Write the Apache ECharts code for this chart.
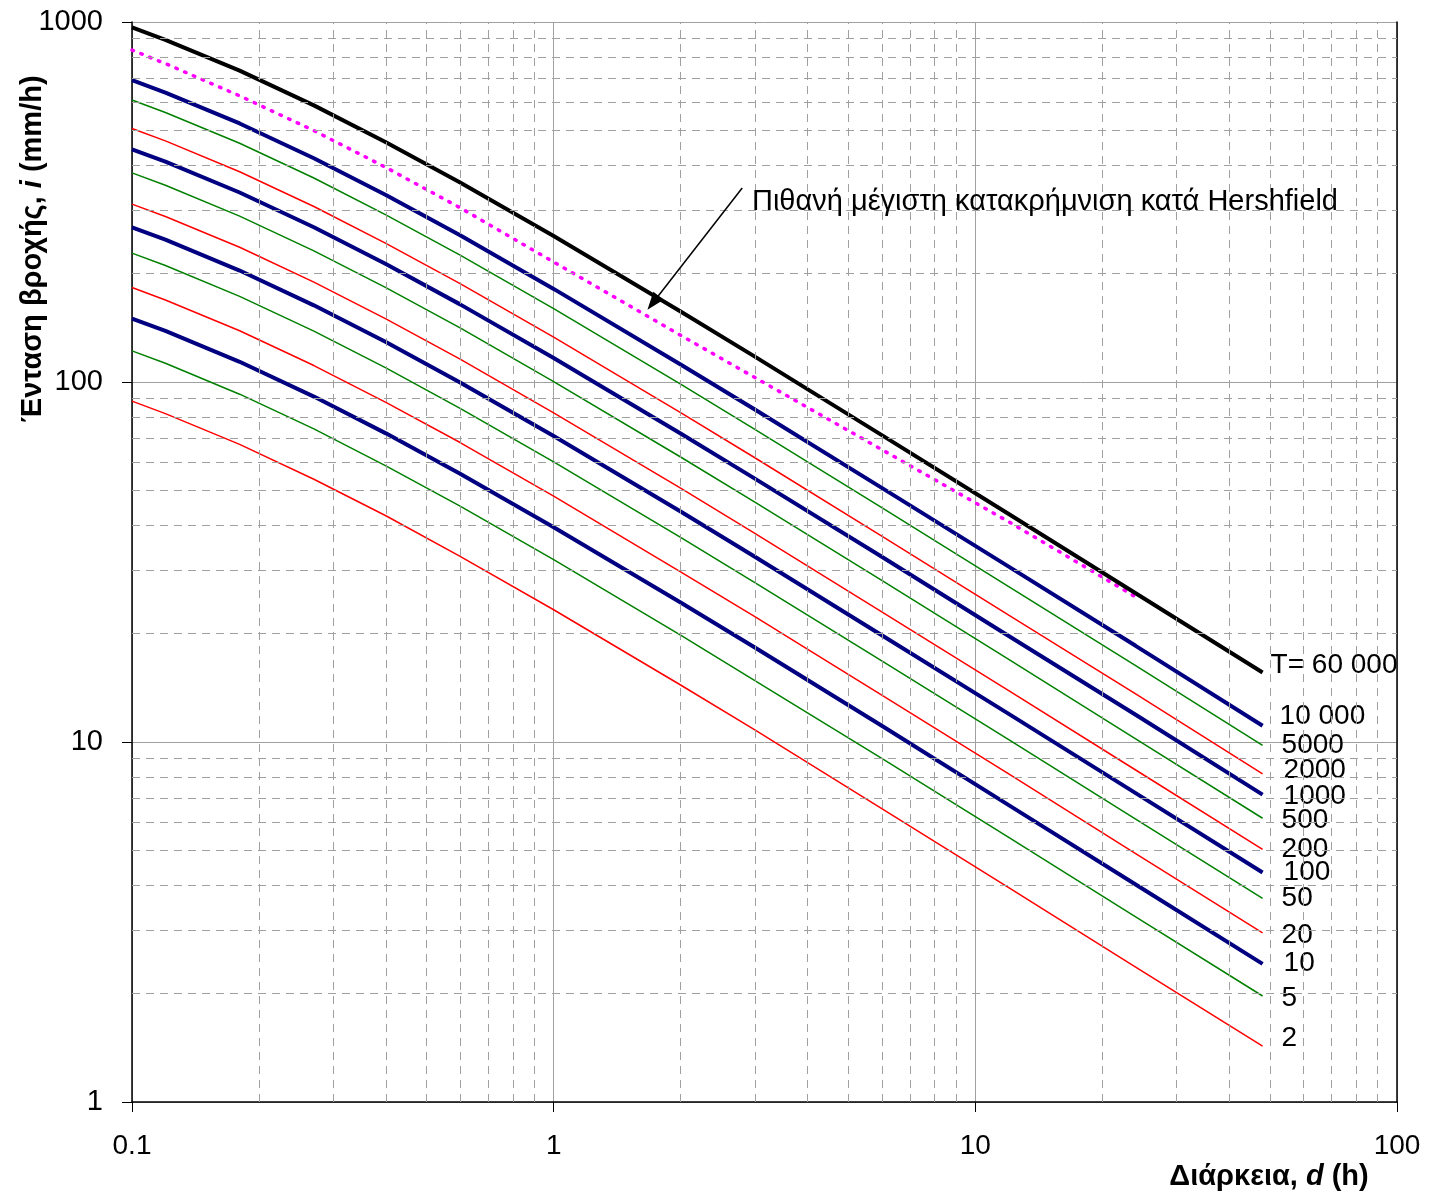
<!DOCTYPE html>
<html>
<head>
<meta charset="utf-8">
<script src="https://cdn.jsdelivr.net/npm/echarts@6/dist/echarts.min.js"></script>
<style>
  html, body { margin: 0; padding: 0; background: #ffffff; }
  #chart { width: 1429px; height: 1195px; }
</style>
</head>
<body>
<div id="chart"></div>
<script>
// Rainfall intensity–duration–frequency curves (log–log), with the Hershfield PMP curve.

// Durations d (h)
const durations = [0.1, 0.12, 0.18, 0.27, 0.4, 0.6, 1, 2, 3, 6, 12, 24, 48];
const hershfieldDurations = [0.1, 0.12, 0.18, 0.27, 0.4, 0.6, 1, 2, 3, 6, 12, 24];

// Intensity i (mm/h) per return period T (years)
const iT60000 = [966, 892.3, 732.7, 586.6, 463.6, 358.2, 254.3, 156.9, 117.6, 71.2, 43.0, 25.9, 15.6];
const iT10000 = [689, 636.4, 522.6, 418.4, 330.7, 255.5, 181.4, 111.9, 83.9, 50.8, 30.7, 18.5, 11.1];
const iT5000  = [607, 560.7, 460.4, 368.6, 291.3, 225.1, 159.8, 98.6, 73.9, 44.8, 27.0, 16.3, 9.78];
const iT2000  = [506, 467.4, 383.8, 307.2, 242.8, 187.6, 133.2, 82.2, 61.6, 37.3, 22.5, 13.6, 8.16];
const iT1000  = [443, 409.2, 336.0, 269.0, 212.6, 164.3, 116.6, 71.9, 53.9, 32.7, 19.7, 11.9, 7.14];
const iT500   = [381, 351.9, 289.0, 231.3, 182.8, 141.3, 100.3, 61.9, 46.4, 28.1, 16.96, 10.2, 6.14];
const iT200   = [312, 288.2, 236.7, 189.4, 149.7, 115.7, 82.1, 50.7, 38.0, 23.0, 13.9, 8.36, 5.03];
const iT100   = [269, 248.5, 204.0, 163.3, 129.1, 99.7, 70.8, 43.7, 32.7, 19.8, 11.97, 7.21, 4.34];
const iT50    = [228, 210.6, 172.9, 138.4, 109.4, 84.5, 60.0, 37.0, 27.7, 16.8, 10.15, 6.11, 3.68];
const iT20    = [183, 169.0, 138.8, 111.1, 87.8, 67.9, 48.2, 29.7, 22.3, 13.5, 8.15, 4.90, 2.95];
const iT10    = [150, 138.6, 113.8, 91.1, 72.0, 55.6, 39.5, 24.4, 18.3, 11.1, 6.68, 4.02, 2.42];
const iT5     = [122, 112.7, 92.5, 74.1, 58.5, 45.2, 32.1, 19.8, 14.8, 9.00, 5.43, 3.27, 1.97];
const iT2     = [88.5, 81.7, 67.1, 53.7, 42.5, 32.8, 23.3, 14.4, 10.8, 6.53, 3.94, 2.37, 1.43];

// Probable maximum precipitation (Hershfield)
const iPMP = [835.6, 766.5, 623.5, 499.2, 394.5, 304.8, 215.4, 134.8, 102.9, 64.9, 40.9, 25.3];

// Curve end labels
const curveLabels = ['T= 60 000', '10 000', '5000', '2000', '1000', '500', '200', '100', '50', '20', '10', '5', '2'];
const curveValues = [iT60000, iT10000, iT5000, iT2000, iT1000, iT500, iT200, iT100, iT50, iT20, iT10, iT5, iT2];

// Axis tick values
const xMajorTicks = [0.1, 1, 10, 100];
const yMajorTicks = [1, 10, 100, 1000];

const annotationText = 'Πιθανή μέγιστη κατακρήμνιση κατά Hershfield';

// ---- styling ----
const FONT = "'Liberation Sans', Arial, sans-serif";
const NAVY = '#000080', GREEN = '#008000', RED = '#ff0000', BLACK = '#000000';
const curveStyles = [
  { color: BLACK, width: 4,   off: [8, -7] },
  { color: NAVY,  width: 4,   off: [17, -9] },
  { color: GREEN, width: 1.5, off: [19, 0] },
  { color: RED,   width: 1.5, off: [21, -4] },
  { color: NAVY,  width: 4,   off: [21, 2] },
  { color: GREEN, width: 1.5, off: [19, 2] },
  { color: RED,   width: 1.5, off: [19, 0] },
  { color: NAVY,  width: 4,   off: [21, 0] },
  { color: GREEN, width: 1.5, off: [19, 0] },
  { color: RED,   width: 1.5, off: [19, 2] },
  { color: NAVY,  width: 4,   off: [21, -1] },
  { color: GREEN, width: 1.5, off: [19, 2] },
  { color: RED,   width: 1.5, off: [19, -8] }
];

// Minor grid positions between decades (2..9 × 10^n)
function minorsBetween(lo, hi) {
  const out = [];
  for (let p = lo; p < hi; p *= 10) {
    for (let k = 2; k <= 9; k++) out.push(+(k * p).toPrecision(3));
  }
  return out;
}
const xMinor = minorsBetween(xMajorTicks[0], xMajorTicks[xMajorTicks.length - 1]);
const yMinor = minorsBetween(yMajorTicks[0], yMajorTicks[yMajorTicks.length - 1]);

const pairs = (xs, ys) => ys.map((v, i) => [xs[i], v]);

const series = [];

// dashed minor grid
series.push({
  type: 'line',
  data: [],
  silent: true,
  z: 1,
  markLine: {
    silent: true,
    animation: false,
    symbol: ['none', 'none'],
    label: { show: false },
    lineStyle: { color: '#a0a0a0', width: 1, type: [8, 6] },
    emphasis: { disabled: true },
    data: xMinor.map(v => ({ xAxis: v })).concat(yMinor.map(v => ({ yAxis: v })))
  }
});

// Hershfield PMP dotted curve
series.push({
  name: 'PMP',
  type: 'line',
  data: pairs(hershfieldDurations, iPMP),
  showSymbol: false,
  z: 3,
  lineStyle: { color: '#ff00ff', width: 3.5, type: [1.5, 8], cap: 'round' }
});

curveValues.forEach((vals, idx) => {
  const st = curveStyles[idx];
  const s = {
    name: curveLabels[idx],
    type: 'line',
    data: pairs(durations, vals),
    showSymbol: false,
    z: st.width > 2 ? 4 : 3,
    lineStyle: { color: st.color, width: st.width },
    endLabel: {
      show: true,
      formatter: curveLabels[idx],
      distance: 0,
      offset: st.off,
      fontFamily: FONT,
      fontSize: 28,
      color: '#000'
    }
  };
  if (idx === 0) {
    // pointer from the annotation text down to the PMP curve
    s.markLine = {
      silent: true,
      animation: false,
      label: { show: false },
      lineStyle: { color: '#000', width: 1.5, type: 'solid' },
      itemStyle: { color: '#000' },
      data: [[
        { coord: [2.80, 346], symbol: 'none', symbolSize: 1 },
        { coord: [1.72, 166], symbol: 'triangle', symbolSize: [13, 18] }
      ]]
    };
    s.markPoint = {
      silent: true,
      animation: false,
      symbol: 'circle',
      symbolSize: 0,
      label: {
        show: true,
        position: 'right',
        distance: 0,
        formatter: annotationText,
        fontFamily: FONT,
        fontSize: 29,
        color: '#000'
      },
      data: [{ coord: [2.953, 316] }]
    };
  }
  series.push(s);
});

const chart = echarts.init(document.getElementById('chart'), null, { renderer: 'canvas' });
chart.setOption({
  animation: false,
  backgroundColor: '#ffffff',
  textStyle: { fontFamily: FONT },
  grid: { left: 132, right: 32, top: 22, bottom: 93, containLabel: false },
  xAxis: {
    type: 'log',
    logBase: 10,
    min: xMajorTicks[0],
    max: xMajorTicks[xMajorTicks.length - 1],
    axisLine: { show: true, lineStyle: { color: '#000', width: 1.5 } },
    axisTick: { show: true, length: 10, lineStyle: { color: '#000', width: 1 } },
    axisLabel: {
      fontSize: 28, color: '#000', margin: 30, fontFamily: FONT,
      formatter: v => String(+(+v).toPrecision(3))
    },
    splitLine: { show: true, lineStyle: { color: '#a0a0a0', width: 1 } }
  },
  yAxis: [{
    type: 'log',
    logBase: 10,
    min: yMajorTicks[0],
    max: yMajorTicks[yMajorTicks.length - 1],
    axisLine: { show: true, lineStyle: { color: '#000', width: 1.5 } },
    axisTick: { show: true, length: 10, lineStyle: { color: '#000', width: 1 } },
    axisLabel: {
      fontSize: 29, color: '#000', margin: 29, fontFamily: FONT,
      formatter: v => String(+(+v).toPrecision(4))
    },
    splitLine: { show: true, lineStyle: { color: '#a0a0a0', width: 1 } }
  }, {
    type: 'log',
    logBase: 10,
    position: 'right',
    min: yMajorTicks[0],
    max: yMajorTicks[yMajorTicks.length - 1],
    axisLine: { show: true, onZero: false, lineStyle: { color: '#000', width: 1.5 } },
    axisTick: { show: false },
    axisLabel: { show: false },
    splitLine: { show: false }
  }],
  graphic: [
    {
      type: 'text',
      x: 33, y: 249,
      rotation: Math.PI / 2,
      style: {
        text: '{b|Ένταση βροχής, }{bi|i}{b| (mm/h)}',
        align: 'center',
        verticalAlign: 'middle',
        rich: {
          b:  { fontFamily: FONT, fontSize: 29, fontWeight: 'bold', fill: '#000' },
          bi: { fontFamily: FONT, fontSize: 29, fontWeight: 'bold', fontStyle: 'italic', fill: '#000' }
        }
      }
    },
    {
      type: 'text',
      x: 1269, y: 1177,
      style: {
        text: '{b|Διάρκεια, }{bi|d}{b| (h)}',
        align: 'center',
        verticalAlign: 'middle',
        rich: {
          b:  { fontFamily: FONT, fontSize: 29, fontWeight: 'bold', fill: '#000' },
          bi: { fontFamily: FONT, fontSize: 29, fontWeight: 'bold', fontStyle: 'italic', fill: '#000' }
        }
      }
    }
  ],
  series: series
});
</script>
</body>
</html>
